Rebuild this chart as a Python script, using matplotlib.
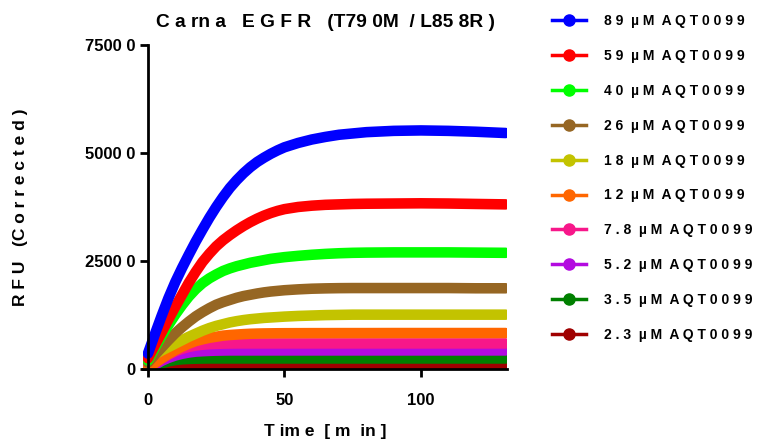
import matplotlib
matplotlib.use("Agg")
import matplotlib.pyplot as plt
from matplotlib.lines import Line2D

plt.rcParams["font.family"] = ["Liberation Sans", "DejaVu Sans"]
plt.rcParams["font.weight"] = "bold"

# time axis (min)
time = [0, 2.5, 5, 7.5, 10, 12.5, 15, 17.5, 20, 22.5, 25, 27.5, 30, 32.5, 35, 37.5,
        40, 42.5, 45, 47.5, 50, 55, 60, 65, 70, 75, 80, 90, 100, 110, 120, 131]

# RFU per concentration
rfu_89 = [3600, 8000, 12300, 16400, 20100, 23400, 26500, 29500, 32300, 35000, 37500, 39800,
          41900, 43700, 45300, 46700, 47900, 48900, 49800, 50600, 51300, 52300, 53100, 53700,
          54200, 54500, 54800, 55100, 55200, 55100, 54900, 54600]
rfu_59 = [2500, 5500, 8500, 11500, 14400, 17200, 20000, 22500, 24800, 26700, 28400, 29800,
          31000, 32100, 33100, 34000, 34800, 35500, 36100, 36600, 37000, 37500, 37800, 38000,
          38100, 38200, 38250, 38300, 38350, 38300, 38200, 38100]
rfu_40 = [2000, 4900, 7700, 10200, 12600, 14800, 16800, 18500, 19900, 21000, 21900, 22700,
          23300, 23800, 24200, 24600, 24900, 25200, 25500, 25700, 25900, 26200, 26450, 26650,
          26800, 26900, 26950, 27000, 27000, 27000, 26950, 26900]
rfu_26 = [1500, 3300, 5000, 6700, 8300, 9700, 11000, 12200, 13200, 14100, 14900, 15500,
          16000, 16500, 16900, 17200, 17500, 17750, 17950, 18100, 18250, 18450, 18600, 18680,
          18730, 18750, 18750, 18750, 18750, 18750, 18700, 18700]
rfu_18 = [2500, 3400, 4300, 5100, 5900, 6700, 7500, 8200, 8900, 9500, 10000, 10400,
          10800, 11100, 11350, 11550, 11700, 11850, 11950, 12050, 12150, 12300, 12400, 12500,
          12550, 12600, 12600, 12600, 12600, 12600, 12600, 12600]
rfu_12 = [300, 1400, 2500, 3500, 4400, 5200, 5900, 6500, 6900, 7250, 7500, 7750,
          7900, 8000, 8100, 8180, 8230, 8260, 8280, 8300, 8310, 8320, 8330, 8330,
          8340, 8340, 8340, 8350, 8350, 8350, 8350, 8350]
rfu_7_8 = [200, 1300, 2400, 3300, 4100, 4700, 5150, 5450, 5650, 5780, 5850, 5900,
           5930, 5940, 5950, 5950, 5950, 5950, 5950, 5950, 5950, 5950, 5950, 5950,
           5950, 5950, 5950, 5950, 5950, 5950, 5950, 5950]
rfu_5_2 = [100, 1000, 1900, 2600, 3150, 3550, 3850, 4050, 4150, 4230, 4280, 4310,
           4330, 4330, 4330, 4330, 4330, 4330, 4330, 4330, 4330, 4330, 4330, 4330,
           4330, 4330, 4330, 4330, 4330, 4330, 4330, 4330]
rfu_3_5 = [0, 700, 1300, 1800, 2100, 2280, 2370, 2420, 2450, 2470, 2470, 2470,
           2470, 2470, 2470, 2470, 2470, 2470, 2470, 2470, 2470, 2470, 2470, 2470,
           2470, 2470, 2470, 2470, 2470, 2470, 2470, 2470]
rfu_2_3 = [0, 100, 200, 290, 380, 460, 530, 590, 640, 690, 730, 760,
           790, 810, 830, 845, 860, 870, 880, 890, 900, 920, 935, 950,
           960, 970, 975, 985, 990, 1000, 1000, 1000]

series = [rfu_89, rfu_59, rfu_40, rfu_26, rfu_18, rfu_12, rfu_7_8, rfu_5_2, rfu_3_5, rfu_2_3]
labels = ["8 9  µ M  A Q T 0 0 9 9", "5 9  µ M  A Q T 0 0 9 9", "4 0  µ M  A Q T 0 0 9 9",
          "2 6  µ M  A Q T 0 0 9 9", "1 8  µ M  A Q T 0 0 9 9", "1 2  µ M  A Q T 0 0 9 9",
          "7 . 8  µ M  A Q T 0 0 9 9", "5 . 2  µ M  A Q T 0 0 9 9", "3 . 5  µ M  A Q T 0 0 9 9",
          "2 . 3  µ M  A Q T 0 0 9 9"]
colors = ["#0000ff", "#ff0000", "#00ff00", "#966623", "#c3c300", "#ff6600",
          "#f7178a", "#b30ae0", "#008000", "#a00000"]

yticks = [0, 25000, 50000, 75000]
ytick_labels = ["0", "2500 0", "5000 0", "7500 0"]
xticks = [0, 50, 100]

fig = plt.figure(figsize=(7.59, 4.48), dpi=100)
ax = fig.add_axes([0.1884, 0.176, 0.4796, 0.724])

n = len(series)
for i, (vals, col) in enumerate(zip(series, colors)):
    ax.plot(time, vals, color=col, lw=7.6, solid_capstyle="round",
            solid_joinstyle="round", zorder=3 + (n - i))

ax.set_xlim(-1.8, 131.5)
ax.set_ylim(0, 75000)
ax.spines["left"].set_position(("data", 0))
ax.set_yticks(yticks)
ax.set_yticklabels(ytick_labels)
ax.set_xticks(xticks)
ax.set_xticklabels([str(x) for x in xticks])

for s in ["top", "right"]:
    ax.spines[s].set_visible(False)
for s in ["left", "bottom"]:
    ax.spines[s].set_linewidth(2)
    ax.spines[s].set_zorder(20)
ax.tick_params(axis="both", width=2, length=6, labelsize=12)
ax.tick_params(axis="y", pad=3)
ax.tick_params(axis="x", pad=11)

ax.set_title("C a rn a   E G F R   (T79 0M  / L85 8R )", fontsize=13.8,
             fontweight="bold", pad=13)
ax.set_xlabel("T im e  [ m  in ]", fontsize=12.5, fontweight="bold", labelpad=12)
ax.set_ylabel("R F U   (C o r r e c t e d )", fontsize=12.5, fontweight="bold")
ax.yaxis.set_label_coords(-0.315, 0.5)

handles = [Line2D([0], [0], color=c, lw=2.5, marker="o", markersize=8) for c in colors]
fig.legend(handles, labels, loc="upper left", bbox_to_anchor=(0.715, 0.99),
           frameon=False, fontsize=10, handlelength=2.4, handletextpad=1.3,
           labelspacing=1.5, borderaxespad=0.3)

fig.savefig("out.png", dpi=100)
